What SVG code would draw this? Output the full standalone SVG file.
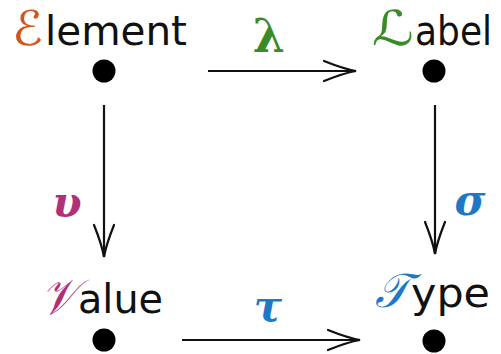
<svg xmlns="http://www.w3.org/2000/svg" width="501" height="354" viewBox="0 0 501 354">
  <style>
    .word { font-family: "DejaVu Sans", "Liberation Sans", sans-serif; font-size: 40px; fill: #111; }
    .script { font-family: "DejaVu Serif", "DejaVu Sans", serif; font-style: italic; font-size: 40px; }
    .greek { font-family: "DejaVu Serif", "Liberation Serif", serif; font-weight: bold; font-style: italic; font-size: 42px; text-anchor: middle; }
    .dot { fill: #000; }
    .arrow { stroke: #111; stroke-width: 2.2; fill: none; marker-end: url(#head); }
    .orange { fill: #d4541c; }
    .green { fill: #3a8a28; }
    .magenta { fill: #b0307a; }
    .blue { fill: #1e78c8; }
  </style>
  <defs>
    <marker id="head" viewBox="-34 -12 36 24" refX="0" refY="0" markerWidth="36" markerHeight="24" markerUnits="userSpaceOnUse" orient="auto">
      <path d="M -32 -10 Q -12 -2 0 0 Q -12 2 -32 10" fill="none" stroke="#111" stroke-width="2.2" stroke-linecap="round"/>
    </marker>
  </defs>

  <rect width="501" height="354" fill="#fff"/>

  <g id="element">
    <text class="script orange" x="12" y="45" style="font-size:48px" textLength="31" lengthAdjust="spacingAndGlyphs">ℰ</text>
    <text class="word" x="45" y="45" textLength="142" lengthAdjust="spacingAndGlyphs">lement</text>
    <circle class="dot" cx="104" cy="71" r="11.5"/>
  </g>

  <g id="label">
    <text class="script green" x="372" y="45" style="font-size:48px" textLength="42" lengthAdjust="spacingAndGlyphs">ℒ</text>
    <text class="word" x="415" y="45" textLength="77" lengthAdjust="spacingAndGlyphs">abel</text>
    <circle class="dot" cx="434" cy="71" r="11.5"/>
  </g>

  <g id="value">
    <text class="script magenta" x="41" y="314" style="font-size:50px" textLength="36" lengthAdjust="spacingAndGlyphs">𝒱</text>
    <text class="word" x="78" y="313" textLength="85" lengthAdjust="spacingAndGlyphs">alue</text>
    <circle class="dot" cx="104" cy="340" r="11.5"/>
  </g>

  <g id="type">
    <text class="script blue" x="375" y="307" style="font-size:48px" textLength="34" lengthAdjust="spacingAndGlyphs">𝒯</text>
    <text class="word" x="411" y="307" textLength="79" lengthAdjust="spacingAndGlyphs">ype</text>
    <circle class="dot" cx="434" cy="341" r="11.5"/>
  </g>

  <g id="connectors">
    <path class="arrow" d="M 208 71 H 356"/>
    <path class="arrow" d="M 104 105 V 257"/>
    <path class="arrow" d="M 435 105 V 254"/>
    <path class="arrow" d="M 182 340 H 360"/>
    <text class="greek green" x="269" y="52" style="font-style:normal;font-size:46px">λ</text>
    <text class="greek magenta" x="67" y="217">υ</text>
    <text class="greek blue" x="470" y="215">σ</text>
    <text class="greek blue" x="268" y="321">τ</text>
  </g>
</svg>
